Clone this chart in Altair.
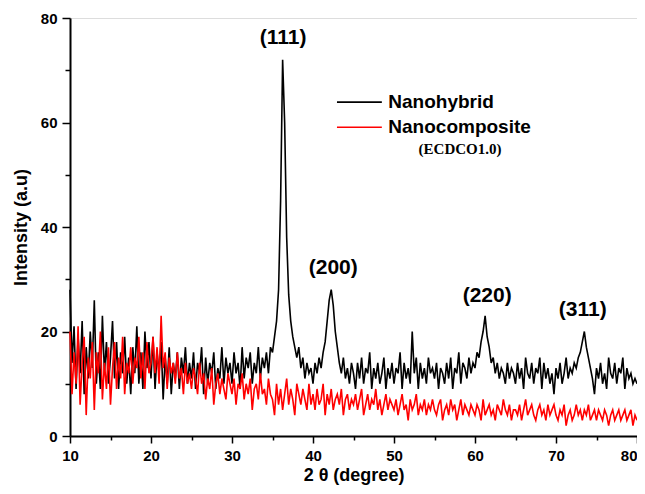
import altair as alt
import numpy as np
import pandas as pd

# 2-theta grid (0.25 degree steps from 10 to 80)
two_theta = [round(10 + 0.25 * i, 2) for i in range(281)]

nanohybrid = [
    28, 14, 21, 9, 19, 12, 22, 8, 17, 11, 20, 13, 26, 10, 16, 9, 23, 12, 18, 10,
    15, 22, 11, 18, 9, 16, 12, 19, 10, 15, 8, 17, 12, 21, 10, 16, 9, 20, 13, 18,
    11, 19, 9, 16, 12, 18, 7, 15, 10, 17, 8, 14, 11, 16, 9, 15, 12, 17, 10, 14,
    11, 16, 9, 14, 12, 17, 8, 15, 10, 14, 12, 16, 9, 13, 11, 17, 10, 15, 12, 14,
    10, 16, 12, 14, 9, 17, 11, 15, 13, 16, 10, 14, 12, 17, 11, 15, 13, 16, 12, 17,
    16, 19, 22, 28, 45, 72, 60, 38, 27, 22, 19, 17, 15, 17, 13, 15, 11, 14, 12, 13,
    10, 14, 12, 15, 13, 16, 18, 22, 26, 28, 25, 20, 17, 14, 12, 15, 11, 13, 10, 14,
    12, 9, 14, 11, 15, 10, 13, 12, 16, 9, 13, 11, 14, 10, 12, 15, 9, 13, 11, 14,
    10, 13, 12, 16, 9, 14, 11, 13, 10, 20, 12, 15, 9, 14, 11, 13, 10, 15, 12, 13,
    11, 14, 9, 13, 12, 10, 14, 11, 15, 9, 13, 12, 16, 10, 14, 13, 11, 15, 12, 14,
    13, 16, 15, 18, 20, 23, 19, 17, 14, 15, 12, 14, 11, 13, 12, 10, 14, 11, 13, 12,
    10, 14, 11, 13, 9, 15, 12, 11, 14, 10, 13, 12, 15, 9, 14, 11, 13, 10, 12, 8,
    13, 11, 14, 10, 12, 15, 11, 13, 12, 14, 13, 15, 16, 18, 20, 17, 15, 13, 11, 8,
    13, 11, 14, 10, 12, 9, 15, 12, 11, 14, 10, 13, 12, 15, 9, 13, 11, 12, 10, 11,
    10,
]

nanocomposite = [
    20, 8, 16, 10, 21, 6, 14, 19, 4, 15, 11, 18, 5, 16, 12, 20, 7, 14, 9, 17,
    6, 13, 18, 9, 15, 11, 19, 8, 14, 12, 17, 10, 15, 13, 19, 11, 16, 9, 18, 12,
    14, 19, 12, 17, 10, 23, 13, 16, 9, 15, 12, 14, 10, 16, 11, 13, 8, 14, 10, 12,
    9, 13, 11, 8, 14, 10, 12, 7, 11, 9, 13, 6, 10, 12, 8, 11, 9, 7, 12, 10,
    8, 11, 6, 10, 9, 12, 7, 10, 8, 11, 5, 9, 10, 7, 12, 8, 9, 6, 11, 8,
    7, 4, 10, 6, 9, 5, 8, 11, 6, 9, 7, 4, 10, 8, 6, 9, 7, 5, 10, 6,
    8, 5, 9, 6, 7, 10, 4, 8, 6, 9, 5, 7, 8, 6, 9, 4, 7, 8, 5, 7,
    6, 8, 5, 7, 9, 4, 6, 8, 5, 7, 6, 9, 5, 7, 4, 6, 8, 5, 7, 6,
    5, 7, 4, 6, 8, 5, 6, 3, 7, 5, 6, 8, 4, 6, 5, 7, 4, 6, 5, 7,
    5, 4, 6, 7, 3, 5, 6, 4, 7, 5, 6, 3, 5, 7, 4, 6, 5, 4, 6, 5,
    4, 6, 5, 3, 7, 4, 5, 6, 4, 5, 3, 6, 5, 4, 7, 5, 4, 6, 3, 5,
    5, 4, 6, 3, 5, 7, 4, 5, 6, 4, 3, 5, 6, 4, 5, 3, 6, 4, 5, 6,
    4, 3, 5, 4, 6, 2, 4, 5, 3, 4, 6, 4, 5, 3, 5, 4, 6, 3, 4, 5,
    3, 5, 4, 3, 5, 4, 2, 4, 5, 3, 4, 5, 3, 4, 5, 3, 4, 5, 2, 4,
    3,
]

series_names = ["Nanohybrid", "Nanocomposite"]
series_colors = ["#000000", "#ff0000"]

peak_labels = ["(111)", "(200)", "(220)", "(311)"]
peak_x = [36.3, 42.5, 61.5, 73.3]
peak_y = [76.2, 32.2, 26.8, 24.1]

x_ticks = [10, 15, 20, 25, 30, 35, 40, 45, 50, 55, 60, 65, 70, 75, 80]
y_ticks = [0, 10, 20, 30, 40, 50, 60, 70, 80]

rows = []
for i, t in enumerate(two_theta):
    rows.append({"x": t, "y": nanohybrid[i], "series": series_names[0]})
for i, t in enumerate(two_theta):
    rows.append({"x": t, "y": nanocomposite[i], "series": series_names[1]})
df = pd.DataFrame(rows)

FONT = "Liberation Sans"

xscale = alt.Scale(domain=[10, 80], nice=False, zero=False)
yscale = alt.Scale(domain=[0, 80], nice=False)
cscale = alt.Scale(domain=series_names, range=series_colors)

xaxis = alt.Axis(
    values=x_ticks,
    labelExpr="datum.value % 10 === 0 ? datum.label : ''",
    labelAlign={"condition": {"test": "datum.value === 80", "value": "right"}, "value": "center"},
    tickSize={"condition": {"test": "datum.value % 10 === 0", "value": 7}, "value": 4},
    grid=False,
    title="2 θ (degree)",
    titleFont=FONT, titleFontSize=18, titleFontWeight="bold", titlePadding=3,
    labelFont=FONT, labelFontSize=15, labelFontWeight="bold", labelPadding=5,
    domainColor="#000", domainWidth=2, tickColor="#000", tickWidth=1.5,
    labelColor="#000", titleColor="#000", labelFlush=False, labelOverlap=False,
)
yaxis = alt.Axis(
    values=y_ticks,
    labelExpr="datum.value % 20 === 0 ? datum.label : ''",
    tickSize={"condition": {"test": "datum.value % 20 === 0", "value": 8}, "value": 5},
    grid=False,
    title="Intensity (a.u)",
    titleFont=FONT, titleFontSize=18, titleFontWeight="bold", titlePadding=10,
    labelFont=FONT, labelFontSize=15, labelFontWeight="bold", labelPadding=5,
    domainColor="#000", domainWidth=2, tickColor="#000", tickWidth=1.5,
    labelColor="#000", titleColor="#000", labelFlush=False,
)

lines = alt.Chart(df).mark_line(strokeWidth=1.6).encode(
    x=alt.X("x:Q", scale=xscale, axis=xaxis),
    y=alt.Y("y:Q", scale=yscale, axis=yaxis),
    color=alt.Color("series:N", scale=cscale, legend=None),
    detail="series:N",
    order="x:Q",
)

peaks_df = pd.DataFrame({"x": peak_x, "y": peak_y, "label": peak_labels})
peaks = alt.Chart(peaks_df).mark_text(
    font=FONT, fontSize=21, fontWeight="bold", color="#000", baseline="middle", align="center"
).encode(x=alt.X("x:Q", scale=xscale), y=alt.Y("y:Q", scale=yscale), text="label:N")

# manual legend (positions in data units)
leg_df = pd.DataFrame({
    "x1": [42.96, 42.96], "x2": [48.5, 48.5], "y": [63.9, 59.1],
    "tx": [49.3, 49.3], "series": series_names,
})
leg_lines = alt.Chart(leg_df).mark_rule(strokeWidth=1.6).encode(
    x=alt.X("x1:Q", scale=xscale), x2="x2:Q", y=alt.Y("y:Q", scale=yscale),
    color=alt.Color("series:N", scale=cscale, legend=None),
)
leg_text = alt.Chart(leg_df).mark_text(
    font=FONT, fontSize=19, fontWeight="bold", color="#000", align="left", baseline="middle"
).encode(x=alt.X("tx:Q", scale=xscale), y=alt.Y("y:Q", scale=yscale), text="series:N")

sub_df = pd.DataFrame({"x": [58.15], "y": [54.9], "label": ["(ECDCO1.0)"]})
sub_text = alt.Chart(sub_df).mark_text(
    font="Liberation Serif", fontSize=15, fontWeight="bold", color="#000", align="center", baseline="middle"
).encode(x=alt.X("x:Q", scale=xscale), y=alt.Y("y:Q", scale=yscale), text="label:N")

chart = alt.layer(lines, peaks, leg_lines, leg_text, sub_text).properties(
    width=567, height=418,
    autosize=alt.AutoSizeParams(type="none"),
    padding={"left": 62, "top": 10, "right": 0, "bottom": 50},
).configure_view(stroke=None).configure(background="white")

chart.save("out.html", embed_options={"renderer": "svg", "actions": False})
